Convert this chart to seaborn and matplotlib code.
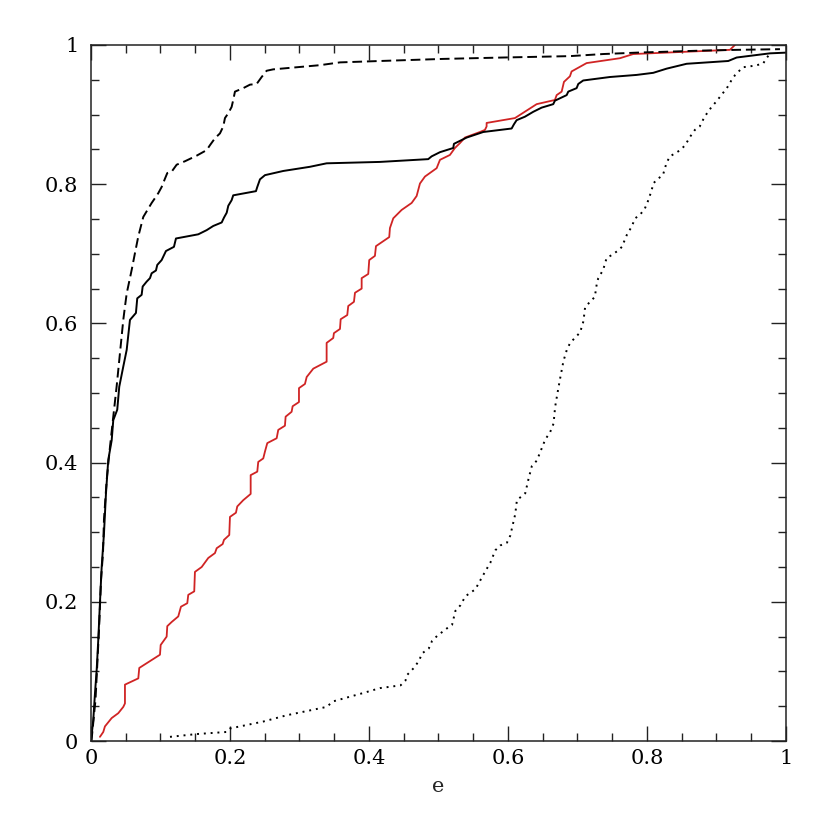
import numpy as np
import matplotlib
matplotlib.use("Agg")
import matplotlib.pyplot as plt
import seaborn as sns
from matplotlib.ticker import MultipleLocator

# cumulative fractions, per sample
e_solid = [0.0, 0.0033, 0.0058, 0.0082, 0.0105, 0.0129, 0.0154, 0.0187, 0.0216, 0.0249,
           0.0298, 0.0321, 0.0378, 0.0407, 0.0465, 0.0514, 0.0561, 0.0647, 0.0666, 0.0729,
           0.0744, 0.0801, 0.0849, 0.0873, 0.0935, 0.0954, 0.1017, 0.1079, 0.1194, 0.1223,
           0.1544, 0.1665, 0.1760, 0.1881, 0.1914, 0.1953, 0.1976, 0.2024, 0.2047, 0.2374,
           0.2393, 0.2432, 0.2504, 0.2767, 0.3151, 0.3391, 0.4158, 0.4853, 0.4902, 0.5022,
           0.5213, 0.5223, 0.5406, 0.5645, 0.6053, 0.6086, 0.6125, 0.6245, 0.6364, 0.6485,
           0.6652, 0.6676, 0.6845, 0.6868, 0.6988, 0.7012, 0.7083, 0.7468, 0.7852, 0.8091,
           0.8283, 0.8571, 0.9170, 0.9291, 0.9770, 1.0]
f_solid = [0.0, 0.030, 0.069, 0.102, 0.145, 0.198, 0.250, 0.298, 0.356, 0.404,
           0.432, 0.461, 0.476, 0.509, 0.538, 0.562, 0.605, 0.615, 0.636, 0.641,
           0.653, 0.660, 0.665, 0.672, 0.676, 0.684, 0.691, 0.704, 0.710, 0.722,
           0.728, 0.734, 0.740, 0.745, 0.752, 0.759, 0.769, 0.777, 0.784, 0.790,
           0.796, 0.807, 0.813, 0.819, 0.825, 0.830, 0.832, 0.836, 0.840, 0.846,
           0.852, 0.858, 0.867, 0.875, 0.880, 0.886, 0.892, 0.897, 0.904, 0.910,
           0.915, 0.920, 0.928, 0.933, 0.938, 0.944, 0.949, 0.954, 0.957, 0.960,
           0.966, 0.973, 0.977, 0.982, 0.988, 0.989]

e_dashed = [0.0007, 0.0065, 0.0094, 0.0122, 0.0144, 0.0173, 0.0187, 0.0226, 0.0273, 0.0321,
            0.0370, 0.0417, 0.0465, 0.0489, 0.0514, 0.0586, 0.0633, 0.0681, 0.0753, 0.0801,
            0.0873, 0.0921, 0.0968, 0.1017, 0.1065, 0.1098, 0.1161, 0.1233, 0.1353, 0.1521,
            0.1665, 0.1712, 0.1784, 0.1856, 0.1904, 0.1928, 0.1976, 0.2024, 0.2047, 0.2072,
            0.2191, 0.2288, 0.2384, 0.2456, 0.2528, 0.2623, 0.2960, 0.3295, 0.3583, 0.4158,
            0.5069, 0.5932, 0.6892, 0.7371, 0.7852, 0.8810, 0.9291, 0.9914]
f_dashed = [0.0, 0.059, 0.116, 0.174, 0.231, 0.270, 0.318, 0.375, 0.422, 0.466,
            0.510, 0.557, 0.605, 0.624, 0.643, 0.677, 0.701, 0.725, 0.753, 0.761,
            0.773, 0.780, 0.787, 0.796, 0.808, 0.816, 0.818, 0.828, 0.833, 0.841,
            0.849, 0.856, 0.866, 0.873, 0.883, 0.895, 0.902, 0.911, 0.921, 0.933,
            0.938, 0.943, 0.944, 0.954, 0.963, 0.965, 0.968, 0.971, 0.975, 0.977,
            0.980, 0.982, 0.984, 0.987, 0.989, 0.992, 0.993, 0.994]

e_red = [0.0129, 0.0177, 0.0201, 0.0298, 0.0393, 0.0465, 0.0489, 0.0489, 0.0681, 0.0695,
         0.0993, 0.1003, 0.1089, 0.1098, 0.1161, 0.1256, 0.1295, 0.1386, 0.1400, 0.1486,
         0.1496, 0.1593, 0.1688, 0.1784, 0.1809, 0.1895, 0.1914, 0.1990, 0.2000, 0.2086,
         0.2105, 0.2191, 0.2298, 0.2298, 0.2393, 0.2407, 0.2479, 0.2504, 0.2537, 0.2672,
         0.2695, 0.2791, 0.2801, 0.2887, 0.2902, 0.2993, 0.2993, 0.3079, 0.3104, 0.3199,
         0.3391, 0.3391, 0.3486, 0.3496, 0.3583, 0.3593, 0.3688, 0.3702, 0.3784, 0.3799,
         0.3895, 0.3895, 0.3990, 0.4004, 0.4086, 0.4101, 0.4292, 0.4302, 0.4350, 0.4470,
         0.4614, 0.4686, 0.4734, 0.4806, 0.4974, 0.5022, 0.5165, 0.5237, 0.5309, 0.5381,
         0.5597, 0.5669, 0.5693, 0.5693, 0.6101, 0.6413, 0.6676, 0.6701, 0.6773, 0.6806,
         0.6892, 0.6916, 0.7132, 0.7612, 0.7803, 0.9194, 0.9266]
f_red = [0.006, 0.013, 0.021, 0.033, 0.040, 0.049, 0.054, 0.081, 0.090, 0.105,
         0.124, 0.138, 0.150, 0.165, 0.171, 0.179, 0.193, 0.198, 0.210, 0.215,
         0.243, 0.250, 0.263, 0.270, 0.277, 0.283, 0.289, 0.296, 0.322, 0.328,
         0.337, 0.346, 0.355, 0.382, 0.387, 0.401, 0.406, 0.416, 0.428, 0.435,
         0.447, 0.453, 0.466, 0.473, 0.481, 0.487, 0.507, 0.513, 0.523, 0.535,
         0.545, 0.572, 0.579, 0.586, 0.592, 0.606, 0.612, 0.625, 0.631, 0.644,
         0.650, 0.665, 0.671, 0.691, 0.697, 0.711, 0.724, 0.737, 0.751, 0.763,
         0.773, 0.783, 0.801, 0.811, 0.823, 0.835, 0.842, 0.852, 0.859, 0.867,
         0.875, 0.878, 0.883, 0.888, 0.895, 0.915, 0.921, 0.928, 0.933, 0.947,
         0.955, 0.962, 0.974, 0.981, 0.987, 0.993, 1.0]

e_dotted = [0.1137, 0.152, 0.195, 0.200, 0.248, 0.2816, 0.339, 0.3486, 0.3918, 0.4158,
            0.4455, 0.4526, 0.455, 0.4646, 0.4718, 0.4766, 0.4861, 0.4909, 0.4981, 0.5124,
            0.5196, 0.5244, 0.5316, 0.5388, 0.5531, 0.5603, 0.5675, 0.5746, 0.5818, 0.589,
            0.5986, 0.6033, 0.6105, 0.6129, 0.6249, 0.6297, 0.6344, 0.6416, 0.6464, 0.6536,
            0.6608, 0.6656, 0.6679, 0.6713, 0.6751, 0.6799, 0.6847, 0.6895, 0.7038, 0.7086,
            0.711, 0.718, 0.725, 0.728, 0.730, 0.737, 0.742, 0.749, 0.759, 0.764,
            0.771, 0.778, 0.783, 0.790, 0.797, 0.802, 0.807, 0.809, 0.816, 0.823,
            0.828, 0.833, 0.840, 0.848, 0.855, 0.862, 0.869, 0.876, 0.883, 0.893,
            0.900, 0.907, 0.915, 0.922, 0.927, 0.934, 0.938, 0.953, 0.967, 0.972, 0.979]
f_dotted = [0.006, 0.010, 0.013, 0.018, 0.028, 0.037, 0.049, 0.057, 0.069, 0.076,
            0.080, 0.087, 0.095, 0.105, 0.115, 0.126, 0.133, 0.144, 0.151, 0.162,
            0.167, 0.187, 0.195, 0.208, 0.218, 0.231, 0.244, 0.256, 0.274, 0.281,
            0.285, 0.295, 0.326, 0.346, 0.356, 0.377, 0.395, 0.403, 0.415, 0.433,
            0.444, 0.456, 0.480, 0.500, 0.521, 0.546, 0.562, 0.572, 0.587, 0.603,
            0.623, 0.631, 0.638, 0.658, 0.665, 0.677, 0.694, 0.698, 0.705, 0.710,
            0.727, 0.739, 0.751, 0.756, 0.765, 0.777, 0.792, 0.801, 0.808, 0.813,
            0.830, 0.840, 0.844, 0.849, 0.856, 0.868, 0.878, 0.883, 0.897, 0.911,
            0.919, 0.928, 0.938, 0.950, 0.957, 0.964, 0.968, 0.970, 0.973, 0.981, 0.990]

tick_vals = [0, 0.2, 0.4, 0.6, 0.8, 1.0]
tick_labels = ['0', '0.2', '0.4', '0.6', '0.8', '1']

sns.set_style("ticks")
plt.rcParams['font.family'] = ['DejaVu Serif']

fig = plt.figure(figsize=(8.3, 8.3), dpi=100)
ax = fig.add_axes([0.1096, 0.1072, 0.8373, 0.8386])

sns.lineplot(x=e_dotted, y=f_dotted, sort=False, estimator=None, color='black',
             lw=1.4, linestyle=(0, (1, 2.5)), ax=ax)
sns.lineplot(x=e_red, y=f_red, sort=False, estimator=None, color='#d02424', lw=1.3, ax=ax)
sns.lineplot(x=e_dashed, y=f_dashed, sort=False, estimator=None, color='black',
             lw=1.4, linestyle=(0, (5, 2.5)), ax=ax)
sns.lineplot(x=e_solid, y=f_solid, sort=False, estimator=None, color='black', lw=1.4, ax=ax)

ax.set_xlim(0, 1)
ax.set_ylim(0, 1)
ax.set_xticks(tick_vals)
ax.set_yticks(tick_vals)
ax.set_xticklabels(tick_labels)
ax.set_yticklabels(tick_labels)
ax.xaxis.set_minor_locator(MultipleLocator(0.05))
ax.yaxis.set_minor_locator(MultipleLocator(0.05))

ax.tick_params(which='both', direction='in', top=True, right=True, colors='#222222',
               labelcolor='black', labelsize=15, width=1.0)
ax.tick_params(which='major', length=11)
ax.tick_params(which='minor', length=5.5)
ax.tick_params(axis='x', pad=6)
ax.tick_params(axis='y', pad=9)
for s in ax.spines.values():
    s.set_linewidth(1.1)
    s.set_color('#222222')

ax.set_xlabel('e', fontsize=15, labelpad=6)
ax.set_ylabel('')

fig.savefig('out.png', dpi=100)
